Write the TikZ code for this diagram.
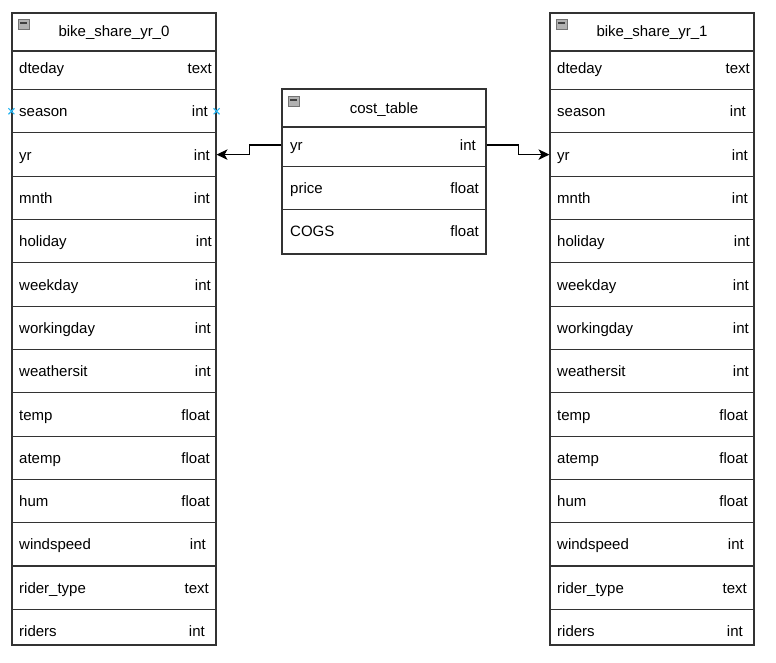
\documentclass[tikz,border=0pt]{standalone}
\usepackage{fontspec}
\setmainfont{Liberation Sans}
\usetikzlibrary{arrows.meta}
\definecolor{markerblue}{RGB}{41,182,242}
\tikzstyle{arrow} = [line width=1.1pt,-{Stealth[length=11pt,width=10.5pt,inset=3pt]}]
\tikzstyle{tablebox} = [draw=black!80, line width=1.1pt]
\tikzstyle{header} = [inner sep=0pt, font=\fontsize{15}{18}\selectfont]
\tikzstyle{fieldname} = [anchor=mid west, inner sep=0pt, font=\fontsize{15}{18}\selectfont]
\tikzstyle{fieldtype} = [anchor=mid east, inner sep=0pt, font=\fontsize{15}{18}\selectfont]
\tikzstyle{icon} = [draw=black!55, fill=black!30, line width=0.7pt, minimum width=11pt, minimum height=10pt, inner sep=0pt]
\tikzstyle{marker} = [draw=markerblue, line width=1.1pt]

\begin{document}
\begin{tikzpicture}[x=1pt, y=-1pt]
	\useasboundingbox (0,0) rectangle (776,663);
	% the two bike share tables
	\foreach \tab/\tx/\title in {L/12/bike\_share\_yr\_0, R/550/bike\_share\_yr\_1} {
		\node[tablebox, minimum width=204pt, minimum height=632pt] (\tab-box) at ({\tx+102}, 329) {};
		\node[header] (\tab-title) at ({\tx+102}, 32.5) {\title};
		\node[icon] (\tab-icon) at ({\tx+11.5}, 24) {};
		\draw[line width=1.6pt, black!75] ([xshift=-3.5pt, yshift=1pt]\tab-icon.center) -- ([xshift=3.5pt, yshift=1pt]\tab-icon.center);
		\draw[tablebox] (\tx, 51) -- ({\tx+204}, 51);
		\foreach \k in {0,...,12}
			\draw[tablebox] (\tx, {89.65+43.3*\k}) -- ({\tx+204}, {89.65+43.3*\k});
		\foreach \key/\name/\type/\gap [count=\i from 0] in {dteday/dteday/text/4, season/season/int/8, yr/yr/int/6, mnth/mnth/int/6, holiday/holiday/int/4, weekday/weekday/int/5, workingday/workingday/int/5, weathersit/weathersit/int/5, temp/temp/float/6, atemp/atemp/float/6, hum/hum/float/6, windspeed/windspeed/int/10, ridertype/rider\_type/text/7, riders/riders/int/11} {
			\coordinate (\tab-\key-row) at ({\tx+102}, {68+43.3*\i});
			\node[fieldname] (\tab-\key) at ({\tx+7}, {71+43.3*\i}) {\name};
			\node[fieldtype] (\tab-\key-type) at ({\tx+204-\gap}, {71+43.3*\i}) {\type};
		}
	}
	% cost table in the middle
	\node[tablebox, minimum width=204pt, minimum height=165pt] (C-box) at (384, 171.5) {};
	\node[header] (C-title) at (384, 109.5) {cost\_table};
	\node[icon] (C-icon) at (293.5, 101) {};
	\draw[line width=1.6pt, black!75] ([xshift=-3.5pt, yshift=1pt]C-icon.center) -- ([xshift=3.5pt, yshift=1pt]C-icon.center);
	\draw[tablebox] (282, 127) -- (486, 127);
	\draw[tablebox] (282, 166.5) -- (486, 166.5);
	\draw[tablebox] (282, 209.5) -- (486, 209.5);
	\coordinate (C-yr-row) at (384, 145);
	\node[fieldname] (C-yr) at (290, 148) {yr};
	\node[fieldtype] (C-yr-type) at (476, 148) {int};
	\node[fieldname] (C-price) at (290, 191) {price};
	\node[fieldtype] (C-price-type) at (479, 191) {float};
	\node[fieldname] (C-COGS) at (290, 234) {COGS};
	\node[fieldtype] (C-COGS-type) at (479, 234) {float};
	% links on yr
	\draw[arrow] (C-box.west |- C-yr-row) -- ++(-32,0) |- (L-box.east |- L-yr-row);
	\draw[arrow] (C-box.east |- C-yr-row) -- ++(32,0) |- (R-box.west |- R-yr-row);
	% markers on the season row
	\draw[marker] (L-box.west |- L-season-row) ++(-3,-3) -- ++(6,6) ++(0,-6) -- ++(-6,6);
	\draw[marker] (L-box.east |- L-season-row) ++(-3,-3) -- ++(6,6) ++(0,-6) -- ++(-6,6);
\end{tikzpicture}
\end{document}
